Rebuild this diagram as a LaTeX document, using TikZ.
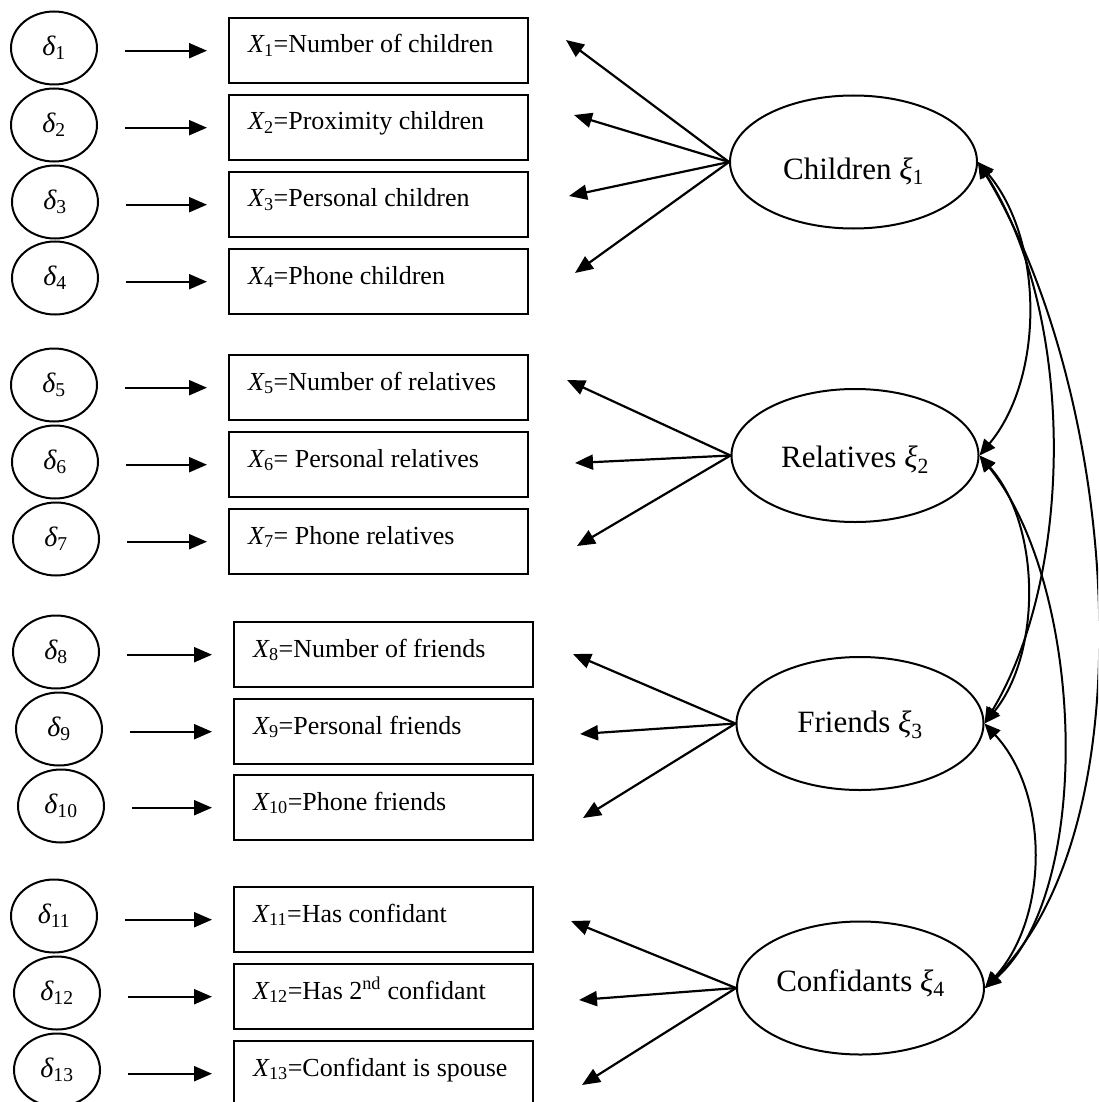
\documentclass[tikz,border=0pt]{standalone}
\usepackage{fontspec}
\setmainfont{Liberation Serif}
\usetikzlibrary{arrows.meta,calc,shapes.geometric}
\newcommand\myX[1]{{\itshape X}\textsubscript{#1}}
\newcommand\mydelta[1]{{\itshape δ}\textsubscript{#1}}
\newcommand\myxi[1]{{\itshape ξ}\textsubscript{#1}}
\tikzset{
  errc/.style={draw, ellipse, line width=2pt, minimum width=86pt, minimum height=73pt, inner sep=0pt, font=\fontsize{28}{32}\selectfont},
  obsbox/.style={draw, rectangle, line width=2.4pt, minimum width=299pt, minimum height=65pt, inner sep=0pt, anchor=north west},
  latent/.style={draw, ellipse, line width=2pt, minimum width=247pt, minimum height=133pt, inner sep=0pt},
  boxtxt/.style={anchor=base west, inner sep=0pt, font=\fontsize{26}{30}\selectfont},
  lattxt/.style={anchor=base, inner sep=0pt, font=\fontsize{31}{36}\selectfont},
  arr/.style={line width=2.2pt, -{Triangle[length=18pt,width=15pt]}},
  errarr/.style={arr, shorten <=27pt, shorten >=21pt},
  cov/.style={line width=2pt, {Triangle[length=16pt,width=14pt]}-{Triangle[length=16pt,width=14pt]}},
}
\begin{document}
\begin{tikzpicture}[x=1pt,y=-1pt]
\useasboundingbox (0,0) rectangle (1098,1102);
\clip (0,0) rectangle (1098,1102);

% error terms
\node[errc] (d1) at (54,48) {\mydelta{1}};
\node[errc] (d2) at (54,125) {\mydelta{2}};
\node[errc] (d3) at (55,202) {\mydelta{3}};
\node[errc] (d4) at (55,278) {\mydelta{4}};
\node[errc] (d5) at (54,385) {\mydelta{5}};
\node[errc] (d6) at (55,462) {\mydelta{6}};
\node[errc] (d7) at (56,539) {\mydelta{7}};
\node[errc] (d8) at (56,652) {\mydelta{8}};
\node[errc] (d9) at (59,729) {\mydelta{9}};
\node[errc] (d10) at (61,806) {\mydelta{10}};
\node[errc] (d11) at (54,916) {\mydelta{11}};
\node[errc] (d12) at (57,993) {\mydelta{12}};
\node[errc] (d13) at (57,1070) {\mydelta{13}};

% observed variables
\node[obsbox] (x1) at (228,17) {};
\node[obsbox] (x2) at (228,94) {};
\node[obsbox] (x3) at (228,171) {};
\node[obsbox] (x4) at (228,248) {};
\node[obsbox] (x5) at (228,354) {};
\node[obsbox] (x6) at (228,431) {};
\node[obsbox] (x7) at (228,508) {};
\node[obsbox] (x8) at (233,621) {};
\node[obsbox] (x9) at (233,698) {};
\node[obsbox] (x10) at (233,774) {};
\node[obsbox] (x11) at (233,886) {};
\node[obsbox] (x12) at (233,963) {};
\node[obsbox] (x13) at (233,1040) {};

\node[boxtxt] (t1) at ($(x1.north west)+(20,36)$) {\myX{1}=Number of children};
\node[boxtxt] (t2) at ($(x2.north west)+(20,36)$) {\myX{2}=Proximity children};
\node[boxtxt] (t3) at ($(x3.north west)+(20,36)$) {\myX{3}=Personal children};
\node[boxtxt] (t4) at ($(x4.north west)+(20,36)$) {\myX{4}=Phone children};
\node[boxtxt] (t5) at ($(x5.north west)+(20,36)$) {\myX{5}=Number of relatives};
\node[boxtxt] (t6) at ($(x6.north west)+(20,36)$) {\myX{6}= Personal relatives};
\node[boxtxt] (t7) at ($(x7.north west)+(20,36)$) {\myX{7}= Phone relatives};
\node[boxtxt] (t8) at ($(x8.north west)+(20,36)$) {\myX{8}=Number of friends};
\node[boxtxt] (t9) at ($(x9.north west)+(20,36)$) {\myX{9}=Personal friends};
\node[boxtxt] (t10) at ($(x10.north west)+(20,36)$) {\myX{10}=Phone friends};
\node[boxtxt] (t11) at ($(x11.north west)+(20,36)$) {\myX{11}=Has confidant};
\node[boxtxt] (t12) at ($(x12.north west)+(20,36)$) {\myX{12}=Has 2\textsuperscript{nd} confidant};
\node[boxtxt] (t13) at ($(x13.north west)+(20,36)$) {\myX{13}=Confidant is spouse};

% error arrows
\foreach \i in {1,...,13}{
  \draw[errarr] (x\i.west -| d\i.east) -- (x\i.west);
}

% latent variables
\node[latent] (C) at (853.5,162) {};
\node[latent] (R) at (855,455.5) {};
\node[latent] (F) at (860,723.5) {};
\node[latent] (K) at (860.5,988) {};
\node[lattxt] (lc) at ($(C.center)+(0,17)$) {Children \myxi{1}};
\node[lattxt] (lr) at ($(R.center)+(0,12)$) {Relatives \myxi{2}};
\node[lattxt] (lf) at ($(F.center)+(0,9)$) {Friends \myxi{3}};
\node[lattxt] (lk) at ($(K.center)+(0,3)$) {Confidants \myxi{4}};

% loading arrow tips
\coordinate (p1) at (566,40);
\coordinate (p2) at (574,115);
\coordinate (p3) at (569,196);
\coordinate (p4) at (575,273);
\coordinate (p5) at (567,380);
\coordinate (p6) at (575,463);
\coordinate (p7) at (577,546);
\coordinate (p8) at (573,654);
\coordinate (p9) at (580,734);
\coordinate (p10) at (583,818);
\coordinate (p11) at (571,921);
\coordinate (p12) at (579,1000);
\coordinate (p13) at (582,1085);

\foreach \i in {1,2,3,4}{ \draw[arr] (C.west) -- (p\i); }
\foreach \i in {5,6,7}{ \draw[arr] (R.west) -- (p\i); }
\foreach \i in {8,9,10}{ \draw[arr] (F.west) -- (p\i); }
\foreach \i in {11,12,13}{ \draw[arr] (K.west) -- (p\i); }

% covariances
\draw[cov] (C.east) .. controls +(66,78) and +(65,-78) .. (R.east);
\draw[cov] (C.east) .. controls +(98,153) and +(90,-150) .. (F.east);
\draw[cov] (C.east) .. controls +(138,228) and +(168,-168) .. (K.east);
\draw[cov] (R.east) .. controls +(62,70) and +(57,-70) .. (F.east);
\draw[cov] (R.east) .. controls +(105,130) and +(110,-98) .. (K.east);
\draw[cov] (F.east) .. controls +(65,70) and +(64,-71) .. (K.east);
\end{tikzpicture}
\end{document}
